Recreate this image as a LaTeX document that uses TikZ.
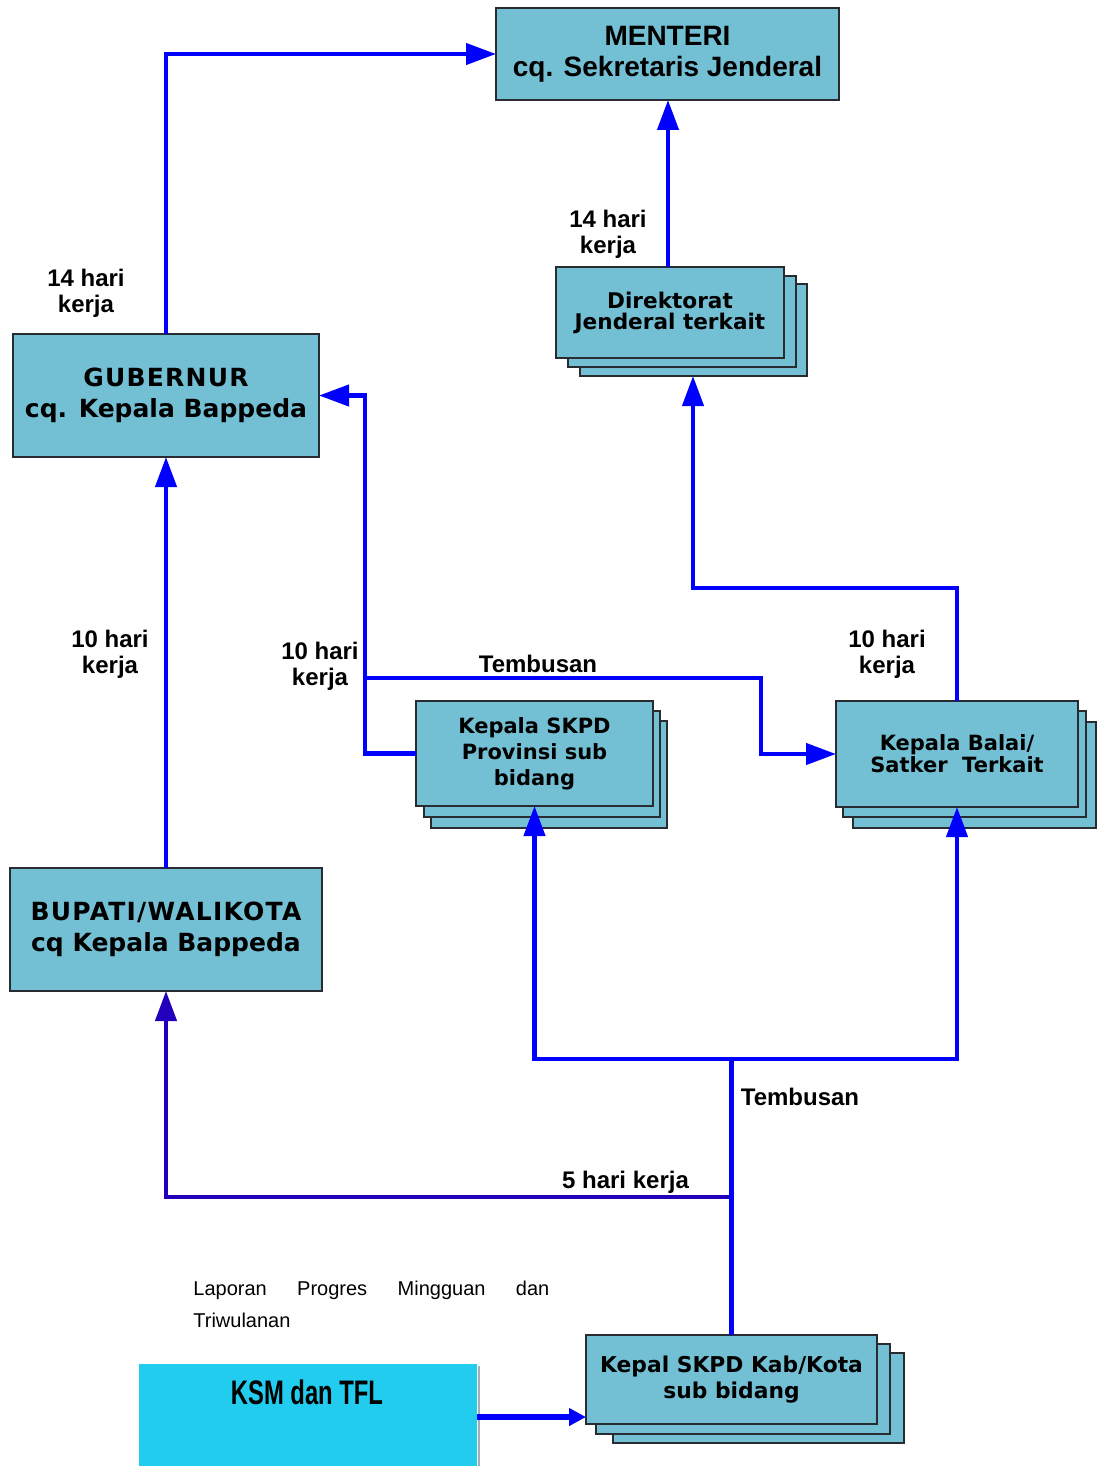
\documentclass[tikz,border=0pt]{standalone}
\usepackage{fontspec}
\setmainfont{Liberation Sans}
\newfontfamily\vfont{DejaVu Sans}
\newfontfamily\narrowfont{Liberation Sans}[FakeStretch=0.7]
\usetikzlibrary{arrows.meta}

\definecolor{boxfill}{RGB}{115,191,212}
\definecolor{boxline}{RGB}{40,44,48}
\definecolor{flowblue}{RGB}{0,0,255}
\definecolor{flownavy}{RGB}{34,0,187}
\definecolor{ksmcyan}{RGB}{34,204,238}
\definecolor{edgegray}{RGB}{160,176,184}

% wider tracking for the upper-case lines
\newcommand{\caps}[1]{{\addfontfeature{LetterSpace=5}#1}}

\tikzset{
  box/.style={draw=boxline, fill=boxfill, line width=0.6pt, inner sep=0pt,
    outer sep=0pt, align=center, font=\vfont\bfseries},
  flow/.style={draw=flowblue, line width=2.15pt,
    -{Triangle[length=15pt,width=10.5pt]}},
  flowplain/.style={draw=flowblue, line width=2.15pt},
  flownavy/.style={draw=flownavy, line width=2.15pt,
    -{Triangle[length=15pt,width=10.5pt]}},
  feed/.style={draw=flowblue, line width=3.3pt,
    -{Triangle[length=8.5pt,width=8.5pt]}},
  lbl/.style={inner sep=0pt, align=center,
    font=\fontsize{12}{13}\selectfont\bfseries},
}

\begin{document}
\begin{tikzpicture}[x=0.5pt,y=-0.5pt]
\useasboundingbox (0,0) rectangle (1100,1466);

% ---------- boxes ----------
\node[box, minimum width=171.5pt, minimum height=46pt,
  font=\fontsize{14}{15.5}\selectfont\bfseries] (men) at (667.5,54)
  {\raisebox{-1.5pt}{MENTERI}\\\raisebox{-1.5pt}{cq. Sekretaris Jenderal}};

\node[box, minimum width=153pt, minimum height=61.5pt,
  font=\vfont\bfseries\fontsize{12.5}{15.5}\selectfont] (gub) at (166,395.5)
  {\caps{GUBERNUR}\\cq. Kepala Bappeda};

\node[box, minimum width=156pt, minimum height=61.5pt,
  font=\vfont\bfseries\fontsize{12.5}{15.5}\selectfont] (bup) at (166,929.5)
  {\caps{BUPATI/WALIKOTA}\\cq Kepala Bappeda};

% Direktorat Jenderal (stacked)
\node[box, minimum width=113.5pt, minimum height=46pt] (dirb2) at (693.5,330) {};
\node[box, minimum width=114pt, minimum height=45.5pt] (dirb1) at (682,321.5) {};
\node[box, minimum width=114pt, minimum height=45.5pt,
  font=\vfont\bfseries\fontsize{10.8}{10.5}\selectfont] (dir) at (670,312.5)
  {Direktorat\\Jenderal terkait};

% Kepala SKPD Provinsi (stacked)
\node[box, minimum width=118pt, minimum height=53.5pt] (skpdb2) at (549,774.5) {};
\node[box, minimum width=118pt, minimum height=53pt] (skpdb1) at (542,764) {};
\node[box, minimum width=118.5pt, minimum height=52.5pt,
  font=\vfont\bfseries\fontsize{10.5}{13}\selectfont] (skpd) at (534.5,753.5)
  {Kepala SKPD\\Provinsi sub\\bidang};

% Kepala Balai / Satker (stacked)
\node[box, minimum width=121.5pt, minimum height=53pt] (balb2) at (974.5,775) {};
\node[box, minimum width=121.5pt, minimum height=53pt] (balb1) at (964.5,764) {};
\node[box, minimum width=121pt, minimum height=53pt,
  font=\vfont\bfseries\fontsize{10.5}{11}\selectfont] (bal) at (957,754)
  {Kepala Balai/\\Satker\ \ Terkait};

% Kepala SKPD Kab/Kota (stacked)
\node[box, minimum width=145.5pt, minimum height=45pt] (kabb2) at (758.5,1398) {};
\node[box, minimum width=147pt, minimum height=45pt] (kabb1) at (743,1389) {};
\node[box, minimum width=145.5pt, minimum height=44.5pt,
  font=\vfont\bfseries\fontsize{10.9}{13}\selectfont] (kab) at (731.5,1379.5)
  {Kepal SKPD Kab/Kota\\sub bidang};

% KSM dan TFL
\draw[edgegray, line width=1pt] (479,1366) -- (479,1466);
\node[fill=ksmcyan, inner sep=0pt, outer sep=0pt,
  minimum width=169pt, minimum height=51pt] (ksm) at (308,1415) {};
\node[inner sep=0pt, font=\narrowfont\bfseries\fontsize{17}{17}\selectfont]
  (ksmtext) at (307,1392) {KSM dan TFL};

% report note
\node[anchor=north west, inner sep=0pt, align=left,
  font=\fontsize{10}{16}\selectfont] (note) at (193,1281)
  {\makebox[178pt][s]{Laporan Progres Mingguan dan}\\Triwulanan};

% ---------- connectors ----------
\coordinate (jog) at (693,588);
\coordinate (c1) at (365,678);
\coordinate (c2) at (761,678);
\coordinate (c3) at (731.5,1059);
\coordinate (c4) at (731.5,1197);
\coordinate (ky) at (0,1417);

\draw[flow] (gub.north) |- (men.west);
\draw[flow] (dir.north -| 668,0) -- (men.south -| 668,0);
\draw[flow] (bal.north) |- (jog) -- (jog |- dirb2.south);
\draw[flow] (bup.north) -- (gub.south);
\draw[flow] (skpd.west) -| (c1) |- (gub.east);
\draw[flow] (c1) -- (c2) |- (bal.west);
\draw[flownavy] (c4) -| (bup.south);
\draw[flowplain] (kab.north) -- (c3);
\draw[flow] (c3) -| (skpd.south);
\draw[flow] (c3) -| (bal.south);
\draw[feed] (ksm.east |- ky) -- (kab.west |- ky);

% ---------- labels ----------
\node[lbl] (l1) at (86,293) {14 hari\\kerja};
\node[lbl] (l2) at (608,234) {14 hari\\kerja};
\node[lbl] (l3) at (110,654) {10 hari\\kerja};
\node[lbl] (l4) at (320,666) {10 hari\\kerja};
\node[lbl] (l5) at (887,654) {10 hari\\kerja};
\node[lbl] (t1) at (538,664) {Tembusan};
\node[lbl] (t2) at (800,1097) {Tembusan};
\node[lbl] (t3) at (625.5,1182) {5 hari kerja};
\end{tikzpicture}
\end{document}
